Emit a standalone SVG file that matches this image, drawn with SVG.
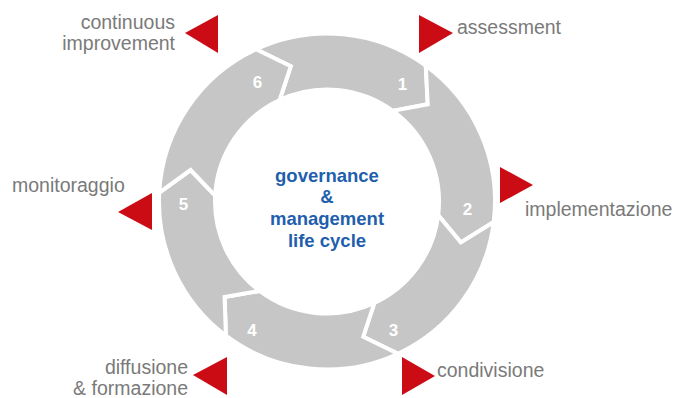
<svg xmlns="http://www.w3.org/2000/svg" width="677" height="398" viewBox="0 0 677 398">
<style>
.seg{fill:#c6c6c6;stroke:#ffffff;stroke-width:4;stroke-linejoin:miter}
.num{font-family:"Liberation Sans",Arial,sans-serif;font-size:17px;font-weight:bold;fill:#ffffff;text-anchor:middle}
.lbl{font-family:"Liberation Sans",Arial,sans-serif;font-size:19.5px;fill:#7a7a7a}
.end{text-anchor:end}
.tri{fill:#cc0c14}
.ctr{font-family:"Liberation Sans",Arial,sans-serif;font-size:18.5px;font-weight:bold;fill:#1f5fae;text-anchor:middle}
</style>
<rect width="677" height="398" fill="#ffffff"/>
<g id="connectors"/>
<g id="step1">
<path class="seg" d="M256.0,49.24 A168,168 0 0 1 425.75,65.59 L427.71,104.25 L392.83,110.89 A112,112 0 0 0 279.67,99.99 L290.77,66.27 Z"/>
<text class="num" x="402.5" y="90">1</text>
</g>
<g id="step2">
<path class="seg" d="M425.75,65.59 A168,168 0 0 1 493.75,221.97 L460.88,242.43 L438.17,215.15 A112,112 0 0 0 392.83,110.89 L427.71,104.25 Z"/>
<text class="num" x="467.5" y="215">2</text>
</g>
<g id="step3">
<path class="seg" d="M493.75,221.97 A168,168 0 0 1 398.0,353.76 L363.23,336.73 L374.33,303.01 A112,112 0 0 0 438.17,215.15 L460.88,242.43 Z"/>
<text class="num" x="393.5" y="336">3</text>
</g>
<g id="step4">
<path class="seg" d="M398.0,353.76 A168,168 0 0 1 225.89,335.67 L224.61,296.98 L259.60,290.95 A112,112 0 0 0 374.33,303.01 L363.23,336.73 Z"/>
<text class="num" x="252" y="336">4</text>
</g>
<g id="step5">
<path class="seg" d="M225.89,335.67 A168,168 0 0 1 159.23,192.71 L190.59,170.01 L215.15,195.64 A112,112 0 0 0 259.60,290.95 L224.61,296.98 Z"/>
<text class="num" x="183.5" y="210">5</text>
</g>
<g id="step6">
<path class="seg" d="M159.23,192.71 A168,168 0 0 1 256.0,49.24 L290.77,66.27 L279.67,99.99 A112,112 0 0 0 215.15,195.64 L190.59,170.01 Z"/>
<text class="num" x="257.5" y="88">6</text>
</g>
<g id="center">
<text class="ctr" x="327" y="182">governance</text>
<text class="ctr" x="327" y="203">&amp;</text>
<text class="ctr" x="327" y="225">management</text>
<text class="ctr" x="327" y="247">life cycle</text>
</g>
<g id="label-continuous">
<polygon class="tri" points="185,33 218,15 218,53"/>
<text class="lbl end" x="175" y="29">continuous</text>
<text class="lbl end" x="175" y="50">improvement</text>
</g>
<g id="label-assessment">
<polygon class="tri" points="419,15 419,53 453,33"/>
<text class="lbl" x="457" y="34">assessment</text>
</g>
<g id="label-implementazione">
<polygon class="tri" points="500,167 500,203 533,185"/>
<text class="lbl" x="525" y="216">implementazione</text>
</g>
<g id="label-condivisione">
<polygon class="tri" points="402,357 402,395 435,376"/>
<text class="lbl" x="437" y="377">condivisione</text>
</g>
<g id="label-diffusione">
<polygon class="tri" points="193,375 227,357 227,395"/>
<text class="lbl end" x="188" y="374">diffusione</text>
<text class="lbl end" x="188" y="395">&amp; formazione</text>
</g>
<g id="label-monitoraggio">
<polygon class="tri" points="118,212 152,193 152,230"/>
<text class="lbl" x="12" y="192">monitoraggio</text>
</g>
</svg>
